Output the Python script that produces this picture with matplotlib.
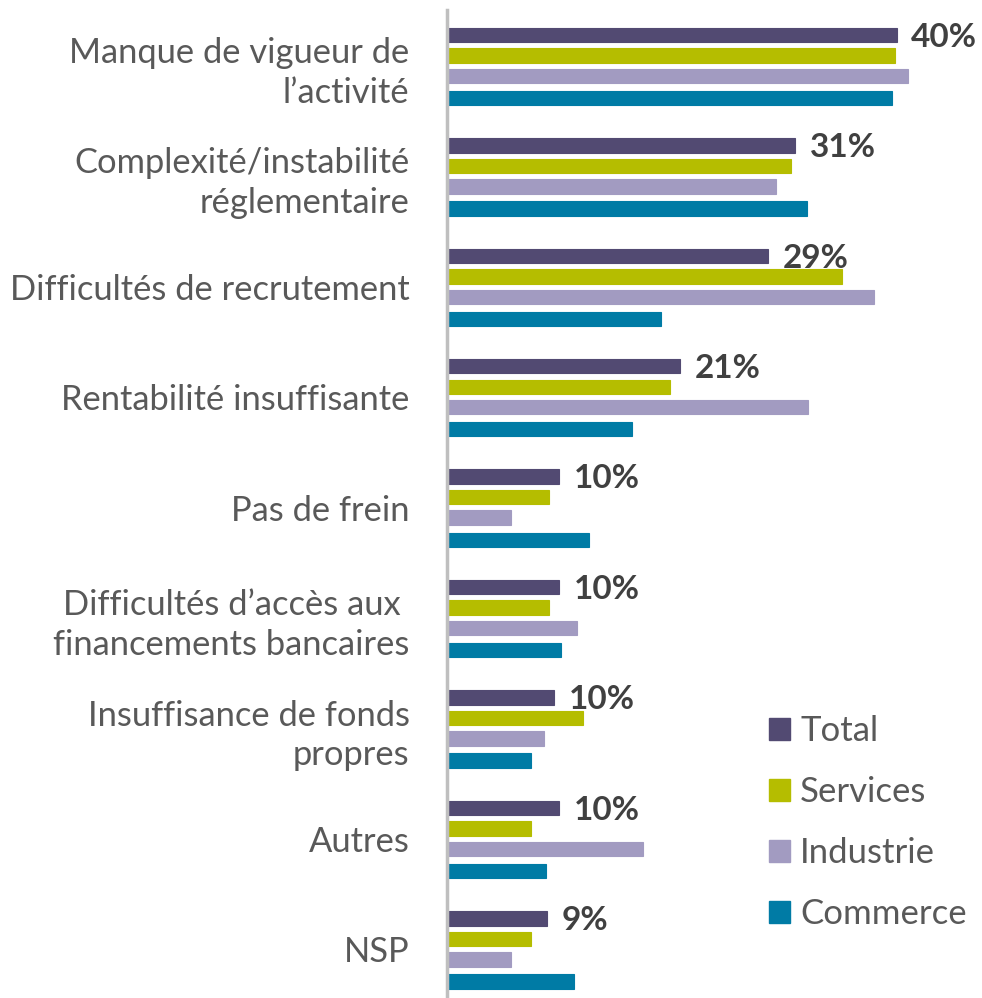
import numpy as np
import matplotlib.pyplot as plt
from matplotlib.patches import Patch

plt.rcParams['font.family'] = ['Lato', 'DejaVu Sans']

categories = ["Manque de vigueur de\nl\u2019activit\u00e9",
              "Complexit\u00e9/instabilit\u00e9\nr\u00e9glementaire",
              "Difficult\u00e9s de recrutement",
              "Rentabilit\u00e9 insuffisante",
              "Pas de frein",
              "Difficult\u00e9s d\u2019acc\u00e8s aux \nfinancements bancaires",
              "Insuffisance de fonds\npropres",
              "Autres",
              "NSP"]

total = [40, 31, 28.6, 20.7, 10, 10, 9.5, 10, 8.9]
services = [39.9, 30.6, 35.1, 19.8, 9.1, 9.1, 12.1, 7.5, 7.5]
industrie = [41, 29.3, 38.0, 32.1, 5.7, 11.6, 8.65, 17.4, 5.7]
commerce = [39.6, 32, 19.0, 16.5, 12.65, 10.1, 7.5, 8.8, 11.3]
total_labels = ["40%", "31%", "29%", "21%", "10%", "10%", "10%", "10%", "9%"]

series = [("Total", total, "#524a72"),
          ("Services", services, "#b5bd00"),
          ("Industrie", industrie, "#a29bc1"),
          ("Commerce", commerce, "#007ba5")]

fig = plt.figure(figsize=(9.82, 9.98), dpi=100)
ax = fig.add_axes([447/982, 0, 535/982, 988/998])

y = np.arange(len(categories))
offsets = [-0.281, -0.095, 0.09, 0.29]
bar_h = 0.13

for (name, vals, col), off in zip(series, offsets):
    ax.barh(y + off, vals, height=bar_h, color=col, edgecolor=col, linewidth=0.8)

# value labels next to the Total bar
for i, v in enumerate(total):
    ax.text(v + 1.3, y[i] + offsets[0] + 0.02, total_labels[i], ha="left", va="center",
            fontsize=24, fontweight="bold", color="#404040")

ax.set_xlim(0, 47.6)
ax.set_ylim(8.44, -0.507)
ax.set_yticks(y)
ax.set_yticklabels(categories, fontsize=24.8, color="#595959", linespacing=1.3)
ax.tick_params(axis="y", length=0, pad=27)
ax.set_xticks([])
for s in ["top", "right", "bottom"]:
    ax.spines[s].set_visible(False)
ax.spines["left"].set_color("#bfbfbf")
ax.spines["left"].set_linewidth(2.5)

handles = [Patch(facecolor=c, edgecolor=c, label=n) for n, _, c in series]
leg = fig.legend(handles=handles, loc="upper left", bbox_to_anchor=(755/982, 1 - 701/998),
                 frameon=False, fontsize=25, labelspacing=0.84, handlelength=0.6,
                 handleheight=0.6, handletextpad=0.3, borderaxespad=0)
for t in leg.get_texts():
    t.set_color("#595959")

fig.savefig("out.png", dpi=100)
